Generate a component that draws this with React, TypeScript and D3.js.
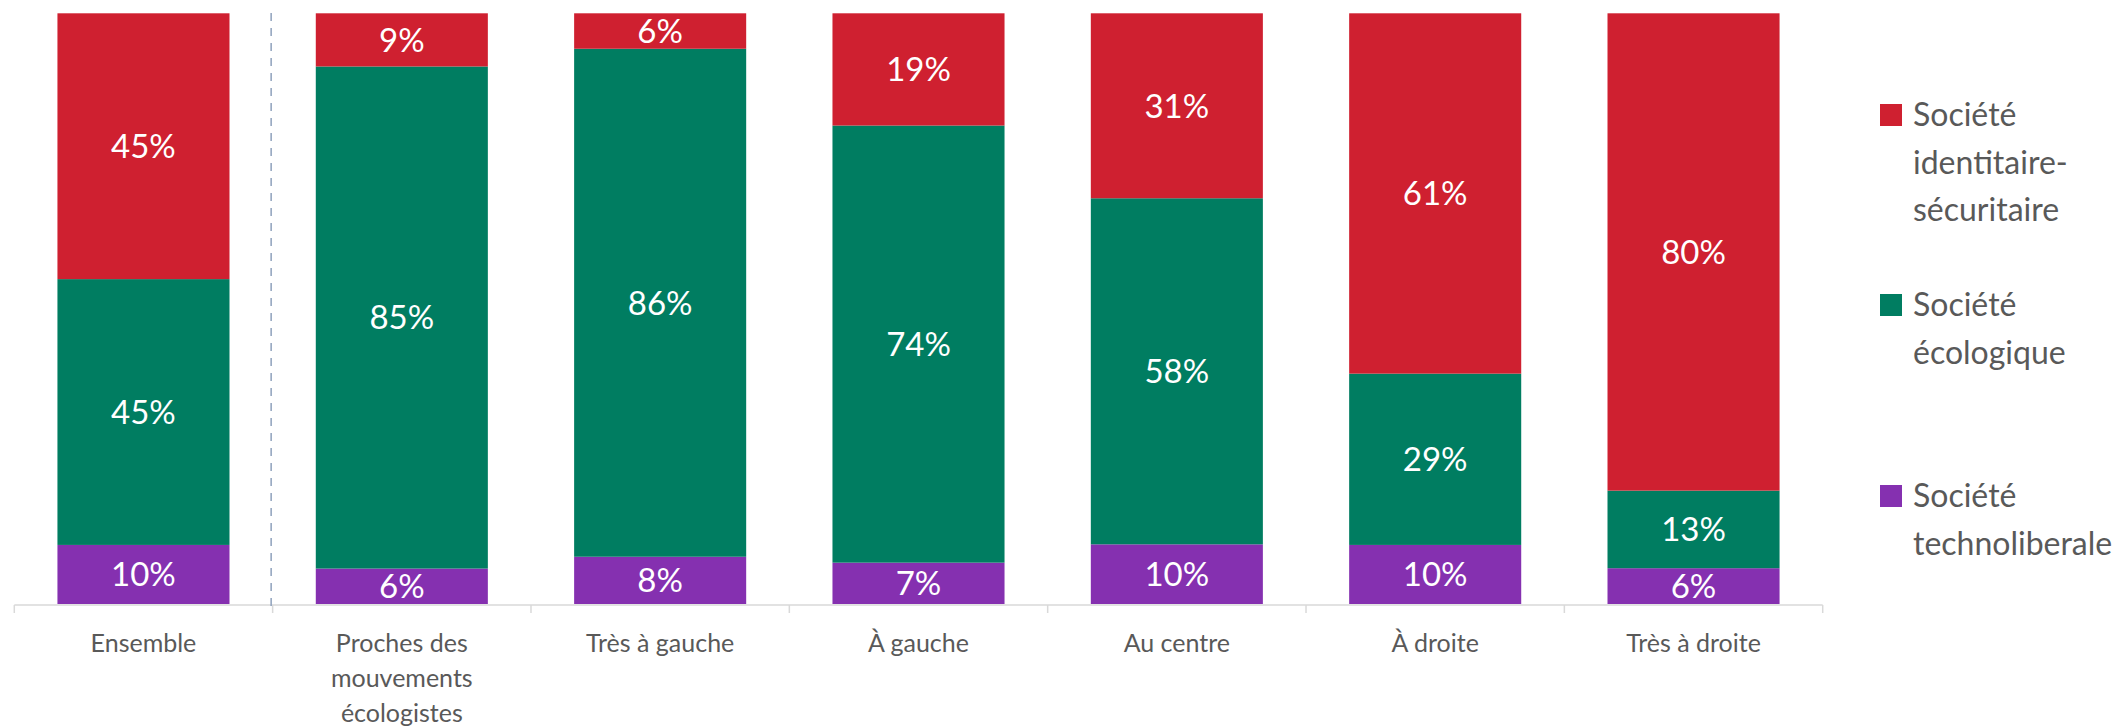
import React, { useRef, useEffect } from 'react'
import { select, scaleBand, scaleLinear, stack, stackOffsetExpand } from 'd3'

const width = 2121
const height = 727

const categories = ['Ensemble', 'Proches des mouvements écologistes', 'Très à gauche', 'À gauche', 'Au centre', 'À droite', 'Très à droite']
const categoryLines = [['Ensemble'], ['Proches des', 'mouvements', 'écologistes'], ['Très à gauche'], ['À gauche'], ['Au centre'], ['À droite'], ['Très à droite']]

// bottom to top
const technoliberale = [10, 6, 8, 7, 10, 10, 6]
const ecologique = [45, 85, 86, 74, 58, 29, 13]
const identitaire = [45, 9, 6, 19, 31, 61, 80]

const seriesKeys = ['technoliberale', 'ecologique', 'identitaire']
const seriesColors = ['#8530B0', '#007D61', '#CF2030']

// legend top to bottom
const legendKeys = ['identitaire', 'ecologique', 'technoliberale']
const legendLines = [['Société', 'identitaire-', 'sécuritaire'], ['Société', 'écologique'], ['Société', 'technoliberale']]

const FONT = 'Lato, "Noto Sans", sans-serif'
const TEXT_GREY = '#595959'

export default function App() {
    const svgRef = useRef(null)

    useEffect(() => {
        const svg = select(svgRef.current)
        svg.selectAll('*').remove()

        const rows = categories.map((c, i) => ({
            category: c,
            technoliberale: technoliberale[i],
            ecologique: ecologique[i],
            identitaire: identitaire[i],
        }))

        const series = stack<any>().keys(seriesKeys).offset(stackOffsetExpand)(rows)

        const xScale = scaleBand()
            .domain(categories)
            .range([14.3, 1822.7])
            .paddingInner(0.334)
            .paddingOuter(0.167)

        const yScale = scaleLinear().domain([0, 1]).range([604, 13.3])

        const color = (key: string) => seriesColors[seriesKeys.indexOf(key)]

        // bars
        const groups = svg.append('g')
            .selectAll('g')
            .data(series)
            .join('g')
            .attr('fill', (s) => color(s.key))

        groups.selectAll('rect')
            .data((s) => s)
            .join('rect')
            .attr('x', (d: any) => xScale(d.data.category) ?? 0)
            .attr('y', (d) => yScale(d[1]))
            .attr('width', xScale.bandwidth())
            .attr('height', (d) => yScale(d[0]) - yScale(d[1]))

        // value labels
        series.forEach((s) => {
            const raw = s.key === 'technoliberale' ? technoliberale : s.key === 'ecologique' ? ecologique : identitaire
            svg.append('g')
                .selectAll('text')
                .data(s)
                .join('text')
                .attr('x', (d: any) => (xScale(d.data.category) ?? 0) + xScale.bandwidth() / 2)
                .attr('y', (d) => (yScale(d[0]) + yScale(d[1])) / 2)
                .attr('dy', '0.36em')
                .attr('text-anchor', 'middle')
                .attr('fill', '#fff')
                .style('font-family', FONT)
                .style('font-size', '33px')
                .text((d, i) => raw[i] + '%')
        })

        // x axis
        const axisY = 605
        const axis = svg.append('g')
        axis.append('line')
            .attr('x1', xScale.range()[0])
            .attr('x2', xScale.range()[1])
            .attr('y1', axisY)
            .attr('y2', axisY)
            .attr('stroke', '#d9d9d9')
            .attr('stroke-width', 1.5)

        const edges = categories.map((c) => (xScale(c) ?? 0) - xScale.step() * xScale.paddingInner() / 2)
        edges.push(xScale.range()[1])
        axis.selectAll('.tick')
            .data(edges)
            .join('line')
            .attr('class', 'tick')
            .attr('x1', (d) => d)
            .attr('x2', (d) => d)
            .attr('y1', axisY)
            .attr('y2', axisY + 8)
            .attr('stroke', '#d9d9d9')
            .attr('stroke-width', 1.5)

        // dashed separator after "Ensemble"
        svg.append('line')
            .attr('x1', edges[1] - 1.5)
            .attr('x2', edges[1] - 1.5)
            .attr('y1', 13)
            .attr('y2', axisY + 6)
            .attr('stroke', '#8EA1BC')
            .attr('stroke-width', 1.5)
            .attr('stroke-dasharray', '8,7')

        const labels = axis.selectAll('.label')
            .data(categories)
            .join('text')
            .attr('class', 'label')
            .attr('text-anchor', 'middle')
            .attr('fill', TEXT_GREY)
            .style('font-family', FONT)
            .style('font-size', '25px')

        labels.each(function (c, i) {
            const t = select(this)
            categoryLines[i].forEach((ln, j) => {
                t.append('tspan')
                    .attr('x', (xScale(c) ?? 0) + xScale.bandwidth() / 2)
                    .attr('y', 651.7 + j * 35)
                    .text(ln)
            })
        })

        // legend
        const legendTops = [104, 294, 485]
        const legend = svg.append('g')
        legendKeys.forEach((k, i) => {
            legend.append('rect')
                .attr('x', 1880)
                .attr('y', legendTops[i])
                .attr('width', 22)
                .attr('height', 22)
                .attr('fill', color(k))
            const t = legend.append('text')
                .attr('fill', TEXT_GREY)
                .style('font-family', FONT)
                .style('font-size', '32px')
            legendLines[i].forEach((ln, j) => {
                t.append('tspan')
                    .attr('x', 1913)
                    .attr('y', legendTops[i] + 22 + j * 47.5)
                    .text(ln)
            })
        })
    }, [])

    return (
        <svg
            ref={svgRef}
            width={width}
            height={height}
            style={{ position: 'absolute', left: 0, top: 0, background: '#fff' }}
        />
    )
}
